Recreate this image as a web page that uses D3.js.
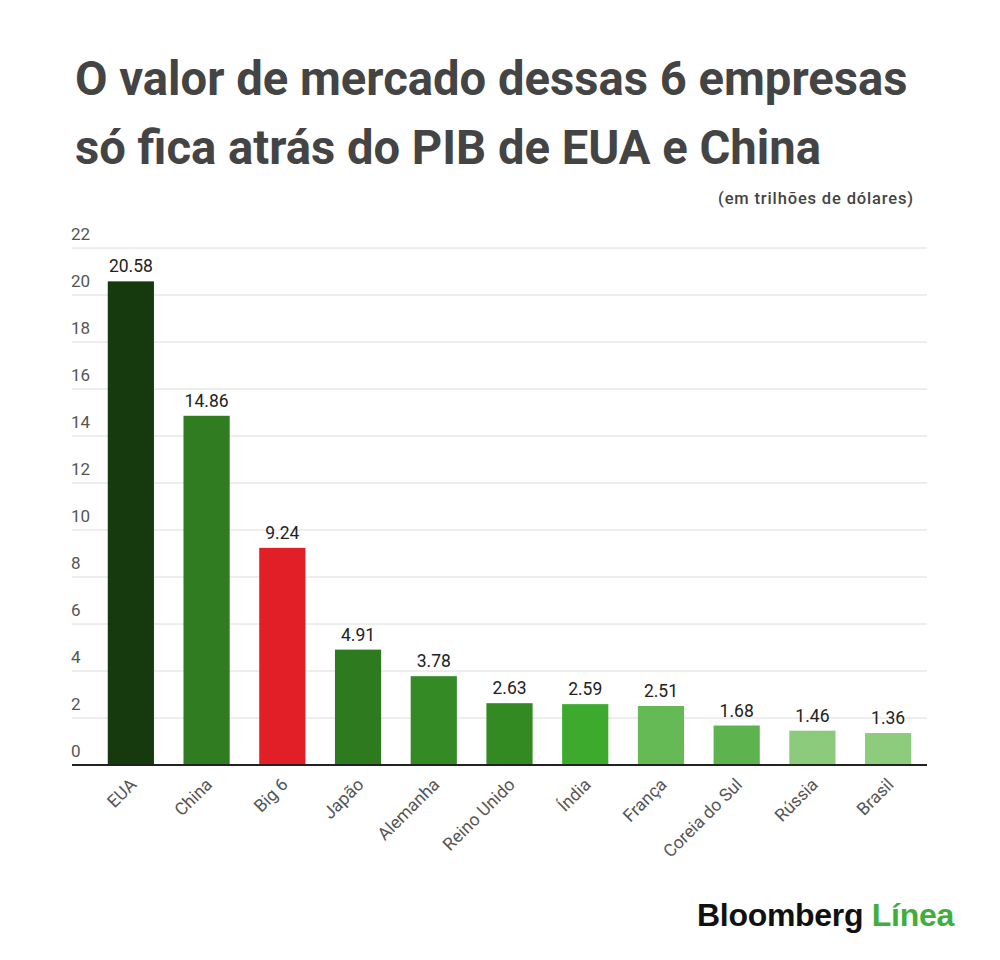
<!DOCTYPE html>
<html><head><meta charset="utf-8">
<script src="https://cdn.jsdelivr.net/npm/d3@7"></script>
<style>body{margin:0;background:#fff}</style>
</head><body>
<svg id="c" width="1000" height="960"></svg>
<script>
const categories = ["EUA","China","Big 6","Japão","Alemanha","Reino Unido","Índia","França","Coreia do Sul","Rússia","Brasil"];
const values = [20.58,14.86,9.24,4.91,3.78,2.63,2.59,2.51,1.68,1.46,1.36];
const barColors = ["#163a0d","#2f7d20","#e21e26","#2e7b1f","#348b25","#338a23","#3daa2d","#66ba56","#5db44e","#8bcb7b","#8ccc7c"];
const yTicks = [0,2,4,6,8,10,12,14,16,18,20,22];
const titleLines = ["O valor de mercado dessas 6 empresas","só fica atrás do PIB de EUA e China"];
const subtitle = "(em trilhões de dólares)";

const svg = d3.select("#c");
const font = "Roboto, 'Noto Sans', sans-serif";
const gridL = 72, gridR = 927;
const y = d3.scaleLinear().domain([0,22]).range([765,248]);
const x = d3.scaleBand().domain(categories).range([93,926]).paddingInner(0.39).paddingOuter(0.195);

svg.selectAll("text.title").data(titleLines).join("text")
  .attr("x",75).attr("y",(d,i)=>95+i*69)
  .attr("font-family",font).attr("font-weight",700).attr("font-size",47.2)
  .attr("fill","#444").text(d=>d);

svg.append("text").attr("x",914).attr("y",204).attr("text-anchor","end")
  .attr("font-family",font).attr("font-weight",500).attr("font-size",16.5)
  .attr("letter-spacing",0.85)
  .attr("fill","#444").text(subtitle);

// gridlines
svg.append("g").selectAll("line").data(yTicks.filter(d=>d>0)).join("line")
  .attr("x1",gridL).attr("x2",gridR).attr("y1",d=>y(d)).attr("y2",d=>y(d))
  .attr("stroke","#dcdcdc").attr("stroke-width",1);

// y tick labels
svg.append("g").selectAll("text").data(yTicks).join("text")
  .attr("x",71).attr("y",d=>y(d)-8)
  .attr("font-family",font).attr("font-size",17).attr("fill","#555").text(d=>d);

// bars
svg.append("g").selectAll("rect").data(values).join("rect")
  .attr("x",(d,i)=>x(categories[i])).attr("width",x.bandwidth())
  .attr("y",d=>y(d)).attr("height",d=>y(0)-y(d))
  .attr("fill",(d,i)=>barColors[i]);

// value labels
svg.append("g").selectAll("text").data(values).join("text")
  .attr("x",(d,i)=>x(categories[i])+x.bandwidth()/2).attr("y",d=>y(d)-9)
  .attr("text-anchor","middle").attr("font-family",font).attr("font-size",17.5)
  .attr("fill","#222").text(d=>d.toFixed(2));

// baseline
svg.append("line").attr("x1",gridL).attr("x2",gridR).attr("y1",y(0)).attr("y2",y(0))
  .attr("stroke","#222").attr("stroke-width",2);

// x labels
svg.append("g").selectAll("text").data(categories).join("text")
  .attr("transform",d=>`translate(${x(d)+x.bandwidth()/2-2},${y(0)+12}) rotate(-45)`)
  .attr("text-anchor","end").attr("dy","0.7em")
  .attr("font-family",font).attr("font-size",17.5).attr("fill","#555").text(d=>d);

// logo
const logo = svg.append("text").attr("x",697).attr("y",926)
  .attr("font-family","'Liberation Sans', Arial, sans-serif").attr("font-weight",700).attr("font-size",32)
  .attr("letter-spacing",-0.3);
logo.append("tspan").attr("fill","#111").text("Bloomberg ");
logo.append("tspan").attr("fill","#3fae3a").text("Línea");
</script>
</body></html>
